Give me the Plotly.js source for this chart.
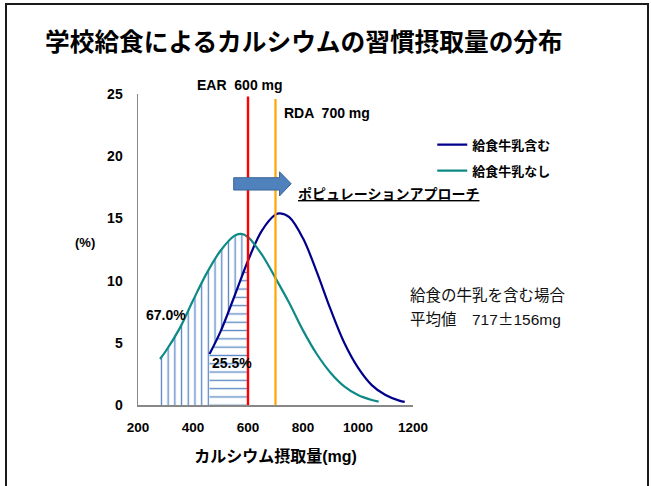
<!DOCTYPE html>
<html>
<head>
<meta charset="utf-8">
<script src="https://cdn.plot.ly/plotly-3.0.1.min.js"></script>
<style>
  html, body { margin: 0; padding: 0; background: #fff; overflow: hidden; }
  #chart { position: absolute; left: 0; top: 0; width: 651px; height: 486px; }
  #frame {
    position: absolute; left: 5px; top: 3px; width: 644px; height: 520px;
    box-sizing: border-box; border: 2px solid #1a1a1a; border-bottom: none;
    pointer-events: none;
  }
</style>
</head>
<body>
<div id="chart"></div>
<div id="frame"></div>
<script>
// Habitual calcium intake distribution (% of pupils per intake level)
const intakeWithMilk = [460, 500, 550, 600, 650, 700, 717, 750, 800, 850, 900, 950, 1000, 1050, 1100, 1150, 1170];
const pctWithMilk    = [4.1, 5.9, 8.7, 11.6, 14.0, 15.3, 15.4, 15.1, 13.4, 10.7, 7.7, 5.0, 3.0, 1.6, 0.8, 0.35, 0.25];

const intakeNoMilk = [280, 300, 350, 400, 450, 500, 550, 575, 600, 650, 700, 750, 800, 850, 900, 950, 1000, 1050, 1075];
const pctNoMilk    = [3.7, 4.3, 6.1, 8.4, 10.6, 12.4, 13.6, 13.75, 13.5, 12.1, 10.2, 8.2, 6.0, 4.1, 2.6, 1.5, 0.8, 0.4, 0.27];

const seriesNames = ['給食牛乳含む', '給食牛乳なし'];
const xTicks = [200, 400, 600, 800, 1000, 1200];
const yTicks = [0, 5, 10, 15, 20, 25];

const EAR = 600;          // estimated average requirement (mg)
const RDA = 700;          // recommended dietary allowance (mg)
const meanWithMilk = 717;
const sdWithMilk = 156;
const shareBelowEarNoMilk = '67.0%';
const shareBelowEarWithMilk = '25.5%';

const JP = 'Noto Sans CJK JP';
const LAT = 'Liberation Sans, Arial, Noto Sans CJK JP';

// parts of each curve below the EAR, used for the hatched areas
function belowEar(xs, ys) {
  const x = [], y = [];
  xs.forEach((v, i) => { if (v <= EAR) { x.push(v); y.push(ys[i]); } });
  return { x, y };
}
const withLow = belowEar(intakeWithMilk, pctWithMilk);
const noLow = belowEar(intakeNoMilk, pctNoMilk);

const hatchColor = '#5a88c4';
const traces = [
  // horizontal hatching under the "with milk" curve
  {
    x: withLow.x, y: withLow.y, mode: 'lines', fill: 'tozeroy',
    line: { width: 0, shape: 'spline' }, fillcolor: 'rgba(0,0,0,0)',
    fillpattern: { shape: '-', size: 8.3, solidity: 0.16, fgcolor: hatchColor, bgcolor: 'rgba(0,0,0,0)', fillmode: 'replace' },
    showlegend: false, hoverinfo: 'skip'
  },
  // lower edge of the vertical hatching: axis, then the "with milk" curve
  {
    x: [intakeNoMilk[0], withLow.x[0]].concat(withLow.x),
    y: [0, 0].concat(withLow.y),
    mode: 'lines', line: { width: 0 }, showlegend: false, hoverinfo: 'skip'
  },
  // vertical hatching under the "without milk" curve
  {
    x: noLow.x, y: noLow.y, mode: 'lines', fill: 'tonexty',
    line: { width: 0, shape: 'spline' }, fillcolor: 'rgba(0,0,0,0)',
    fillpattern: { shape: '|', size: 6.7, solidity: 0.2, fgcolor: hatchColor, bgcolor: 'rgba(0,0,0,0)', fillmode: 'replace' },
    showlegend: false, hoverinfo: 'skip'
  },
  {
    x: intakeWithMilk, y: pctWithMilk, name: seriesNames[0], mode: 'lines',
    line: { color: '#00008b', width: 2.2, shape: 'spline' }, legendgroup: 'a'
  },
  {
    x: intakeNoMilk, y: pctNoMilk, name: seriesNames[1], mode: 'lines',
    line: { color: '#0e8a86', width: 2.2, shape: 'spline' }, legendgroup: 'b'
  },
  // reference intake lines
  {
    x: [EAR, EAR], y: [0, 24.8], mode: 'lines',
    line: { color: '#ff0000', width: 2.4 }, showlegend: false, hoverinfo: 'skip'
  },
  {
    x: [RDA, RDA], y: [0, 24.6], mode: 'lines',
    line: { color: '#ffa500', width: 2.2 }, showlegend: false, hoverinfo: 'skip'
  }
];

const boldLat = (size) => ({ family: LAT, size: size, weight: 'bold', color: '#000' });

const layout = {
  width: 651, height: 486,
  margin: { l: 138, r: 238, t: 94, b: 81 },
  paper_bgcolor: 'rgba(0,0,0,0)', plot_bgcolor: 'rgba(0,0,0,0)',
  title: {
    text: '学校給食によるカルシウムの習慣摂取量の分布',
    font: { family: JP, size: 24.7, weight: 'bold', color: '#000' },
    xref: 'container', x: 45 / 651, xanchor: 'left',
    yref: 'container', y: 1 - 42 / 486, yanchor: 'middle'
  },
  xaxis: {
    range: [200, 1200], tickvals: xTicks, ticktext: xTicks.map(String),
    showgrid: false, zeroline: false, showline: true, linecolor: '#888', linewidth: 1.5,
    ticks: '', ticklabelstandoff: 9, tickfont: boldLat(13.5), fixedrange: true,
    title: { text: 'カルシウム摂取量(mg)', font: { family: LAT, size: 16, weight: 'bold', color: '#000' }, standoff: 17 }
  },
  yaxis: {
    range: [0, 25], tickvals: yTicks, ticktext: yTicks.map(String),
    showgrid: false, zeroline: false, showline: true, linecolor: '#888', linewidth: 1.5,
    ticks: '', ticklabelstandoff: 11, tickfont: boldLat(14), fixedrange: true
  },
  legend: {
    x: 1.07, xanchor: 'left', y: 0.885, yanchor: 'top',
    font: { family: JP, size: 13, weight: 'bold', color: '#000' },
    bgcolor: 'rgba(0,0,0,0)', tracegroupgap: 6, traceorder: 'grouped'
  },
  shapes: [
    // block arrow pointing to higher intake
    {
      type: 'path', xref: 'x', yref: 'y',
      path: 'M548,18.27 L714.5,18.27 L714.5,18.75 L757,17.79 L714.5,16.8 L714.5,17.28 L548,17.28 Z',
      fillcolor: '#4f81bd', line: { color: '#3a6597', width: 1 }
    }
  ],
  annotations: [
    { text: 'EAR  ' + EAR + ' mg', x: 0.371, y: 1.029, xref: 'paper', yref: 'paper', xanchor: 'center', yanchor: 'middle',
      showarrow: false, font: boldLat(14) },
    { text: 'RDA  ' + RDA + ' mg', x: 722, y: 23.5, xref: 'x', yref: 'y', xanchor: 'left', showarrow: false, font: boldLat(14) },
    { text: 'ポピュレーションアプローチ', x: 776, y: 17.04, xref: 'x', yref: 'y', xanchor: 'left', showarrow: false,
      font: { family: JP, size: 14, weight: 'bold', color: '#000', lineposition: 'under' } },
    { text: '(%)', x: -0.193, y: 0.521, xref: 'paper', yref: 'paper', xanchor: 'center', yanchor: 'middle',
      showarrow: false, font: boldLat(13) },
    { text: shareBelowEarNoMilk, x: 300, y: 7.23, xref: 'x', yref: 'y', showarrow: false, font: boldLat(14) },
    { text: shareBelowEarWithMilk, x: 542.5, y: 3.4, xref: 'x', yref: 'y', showarrow: false, font: boldLat(14) },
    { text: '給食の牛乳を含む場合', x: 1183, y: 8.84, xref: 'x', yref: 'y', xanchor: 'left', showarrow: false,
      font: { family: LAT, size: 15.5, color: '#111' } },
    { text: '平均値　' + meanWithMilk + '<span style="font-family:Noto Sans CJK JP">±</span>' + sdWithMilk + 'mg',
      x: 1183, y: 6.99, xref: 'x', yref: 'y', xanchor: 'left', showarrow: false,
      font: { family: LAT, size: 15.5, color: '#111' } }
  ]
};

Plotly.newPlot('chart', traces, layout, { displayModeBar: false, staticPlot: true });
</script>
</body>
</html>
